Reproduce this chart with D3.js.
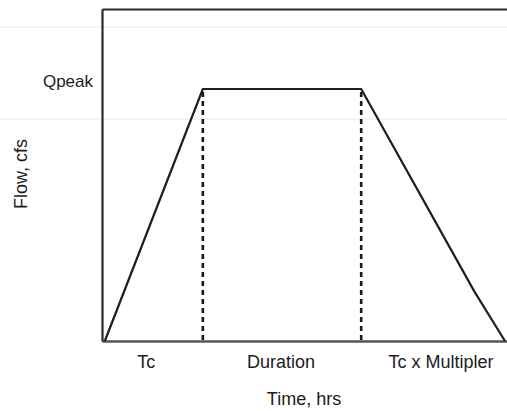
<!DOCTYPE html>
<html>
<head>
<meta charset="utf-8">
<script src="https://cdn.jsdelivr.net/npm/d3@7"></script>
<style>
  html, body { margin: 0; padding: 0; background: #fff; }
  svg { display: block; }
  text { font-family: "Liberation Sans", Arial, sans-serif; fill: #1c1c1c; }
</style>
</head>
<body>
<svg id="chart" width="507" height="411"></svg>
<script>
// Hydrograph vertices (time in arbitrary units 0-100, flow as % of plot height)
const hydroTime = [0.7, 24.9, 64, 92, 99.5];
const hydroFlow = [0, 75.9, 75.9, 14.8, 0];
// Dashed divider times
const dividerTime = [24.9, 64];
const peakFlow = 75.9;
// Segment labels under the axis
const segLabels = ["Tc", "Duration", "Tc x Multipler"];
const segLabelTime = [10.9, 44.2, 83.7];
// Faint background lines (scan artefacts)
const faintFlow = [94.6, 66.9];
const yTickLabel = ["Qpeak"];

const svg = d3.select("#chart");
const W = 507, H = 411;
const x = d3.scaleLinear().domain([0, 100]).range([102, 507]);
const y = d3.scaleLinear().domain([0, 100]).range([341, 9]);

// faint lines
svg.selectAll("line.faint").data(faintFlow).enter().append("line")
  .attr("x1", 0).attr("x2", W)
  .attr("y1", d => y(d)).attr("y2", d => y(d))
  .attr("stroke", "#f1f1f1").attr("stroke-width", 1.5);

// axes (domain lines only)
const axB = svg.append("g").attr("transform", `translate(0,${y(0)})`)
  .call(d3.axisBottom(x).tickValues([]).tickSizeOuter(0));
const axT = svg.append("g").attr("transform", `translate(0,${y(100)})`)
  .call(d3.axisTop(x).tickValues([]).tickSizeOuter(0));
const axL = svg.append("g").attr("transform", `translate(${x(0)},0)`)
  .call(d3.axisLeft(y).tickValues([]).tickSizeOuter(0));
[axB, axT, axL].forEach(g => g.select(".domain").attr("stroke", "#2a2a2a").attr("stroke-width", 2.2));
axB.select(".domain").attr("stroke", "#555").attr("stroke-width", 2.6);

// dashed dividers
svg.selectAll("line.div").data(dividerTime).enter().append("line")
  .attr("x1", d => x(d)).attr("x2", d => x(d))
  .attr("y1", y(peakFlow) + 3).attr("y2", y(0))
  .attr("stroke", "#1a1a1a").attr("stroke-width", 2.6)
  .attr("stroke-dasharray", "5,4");

// hydrograph
const pts = hydroTime.map((t, i) => [t, hydroFlow[i]]);
svg.append("path").datum(pts)
  .attr("d", d3.line().x(d => x(d[0])).y(d => y(d[1])))
  .attr("fill", "none").attr("stroke", "#1e1e1e").attr("stroke-width", 2.2)
  .attr("stroke-linejoin", "round");

// Qpeak label
svg.append("text").text(yTickLabel[0])
  .attr("x", x(0) - 9).attr("y", y(peakFlow) - 2)
  .attr("text-anchor", "end").attr("font-size", 17);

// segment labels
svg.selectAll("text.seg").data(segLabels).enter().append("text")
  .text(d => d)
  .attr("x", (d, i) => x(segLabelTime[i])).attr("y", 368)
  .attr("text-anchor", "middle").attr("font-size", 18);

// axis titles
svg.append("text").text("Time, hrs")
  .attr("x", 304).attr("y", 405)
  .attr("text-anchor", "middle").attr("font-size", 18);
svg.append("text").text("Flow, cfs")
  .attr("transform", "translate(27,174) rotate(-90)")
  .attr("text-anchor", "middle").attr("font-size", 18);
</script>
</body>
</html>
